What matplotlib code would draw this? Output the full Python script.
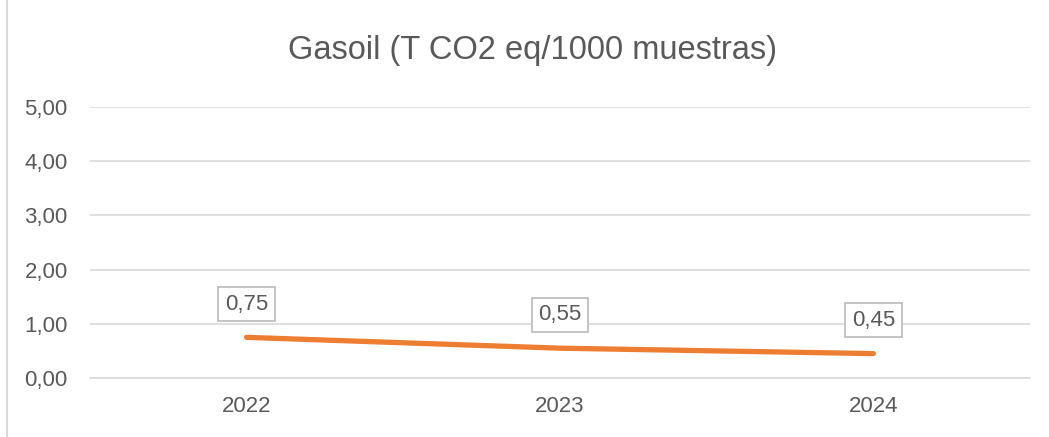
import matplotlib.pyplot as plt
from matplotlib.lines import Line2D

years = ['2022', '2023', '2024']
valores = [0.75, 0.55, 0.45]
etiquetas = ['0,75', '0,55', '0,45']
y_ticks = [0, 1, 2, 3, 4, 5]
y_tick_labels = ['0,00', '1,00', '2,00', '3,00', '4,00', '5,00']

plt.rcParams['font.family'] = ['Liberation Sans', 'DejaVu Sans']
gris = '#595959'

fig = plt.figure(figsize=(10.49, 4.37), dpi=100)
ax = fig.add_axes([90 / 1049, 59 / 437, 940 / 1049, 271 / 437])

x = range(len(years))
ax.plot(x, valores, color='#ED7D31', linewidth=3.8, solid_capstyle='round')

for xi, v, t in zip(x, valores, etiquetas):
    ax.annotate(t, (xi, v), xytext=(0, 24), textcoords='offset points',
                ha='center', va='center', fontsize=16, color=gris,
                bbox=dict(boxstyle='square,pad=0.3', fc='white', ec='#bfbfbf', lw=1.3))

ax.set_xlim(-0.5, 2.5)
ax.set_ylim(0, 5)
ax.set_xticks(list(x))
ax.set_xticklabels(years)
ax.set_yticks(y_ticks)
ax.set_yticklabels(y_tick_labels)
ax.tick_params(length=0, labelsize=16, labelcolor=gris)
ax.tick_params(axis='x', pad=13)
ax.tick_params(axis='y', pad=16)
ax.grid(axis='y', color='#d9d9d9', linewidth=1.2)
ax.set_axisbelow(True)
for s in ['top', 'right', 'left']:
    ax.spines[s].set_visible(False)
ax.spines['bottom'].set_color('#d9d9d9')
ax.spines['bottom'].set_linewidth(1.2)

fig.text(532 / 1049, 1 - 50 / 437, 'Gasoil (T CO2 eq/1000 muestras)', ha='center', va='center',
         fontsize=23.5, color=gris)

fig.add_artist(Line2D([7 / 1049, 7 / 1049], [0, 1], transform=fig.transFigure,
                      color='#d9d9d9', linewidth=1.5))

fig.savefig('out.png', dpi=100)
